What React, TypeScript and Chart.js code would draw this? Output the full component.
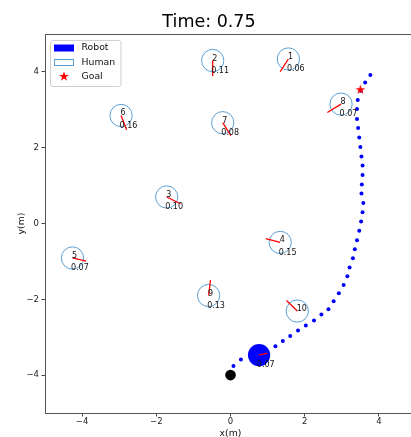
import React, { useEffect, useRef } from 'react';
import { Chart, registerables } from 'chart.js';

Chart.register(...registerables);

// ---------- data ----------
const TITLE = 'Time: 0.75';
const X_TICKS = [-4, -2, 0, 2, 4];
const Y_TICKS = [-4, -2, 0, 2, 4];
const AXIS_MIN = -5;
const AXIS_MAX = 5;
const X_LABEL = 'x(m)';
const Y_LABEL = 'y(m)';

// robot trajectory dots (start -> end)
const PATH_X = [0.08, 0.28, 1.21, 1.41, 1.61, 1.82, 2.03, 2.25, 2.45, 2.64, 2.78, 2.92, 3.05, 3.15, 3.21, 3.30, 3.35, 3.41, 3.47, 3.52, 3.56, 3.58, 3.53, 3.54, 3.56, 3.56, 3.53, 3.50, 3.47, 3.44, 3.41, 3.41, 3.43, 3.51, 3.63, 3.77];
const PATH_Y = [-3.76, -3.59, -3.24, -3.10, -2.97, -2.82, -2.69, -2.56, -2.40, -2.26, -2.05, -1.84, -1.62, -1.39, -1.16, -0.92, -0.68, -0.44, -0.19, 0.05, 0.30, 0.54, 0.79, 1.03, 1.28, 1.53, 1.77, 2.02, 2.27, 2.52, 2.76, 3.02, 3.26, 3.50, 3.72, 3.92];

const HUMAN_IDS = ['1', '2', '3', '4', '5', '6', '7', '8', '9', '10'];
const HUMAN_X = [1.56, -0.48, -1.72, 1.34, -4.26, -2.95, -0.21, 2.98, -0.59, 1.80];
const HUMAN_Y = [4.34, 4.30, 0.70, -0.50, -0.91, 2.85, 2.66, 3.15, -1.90, -2.31];
const HUMAN_HEAD_X = [1.34, -0.48, -1.35, 0.95, -3.89, -2.80, 0.01, 2.61, -0.54, 1.51];
const HUMAN_HEAD_Y = [4.01, 3.89, 0.52, -0.40, -0.99, 2.47, 2.32, 2.93, -1.49, -2.03];
const HUMAN_VALUES = ['0.06', '0.11', '0.10', '0.15', '0.07', '0.16', '0.08', '0.07', '0.13', ''];
const HUMAN_RADIUS = 0.3;

const ROBOT_X = [0.77];
const ROBOT_Y = [-3.47];
const ROBOT_HEAD_X = [0.99];
const ROBOT_HEAD_Y = [-3.42];
const ROBOT_VALUE = ['0.07'];
const ROBOT_RADIUS = 0.3;

const START_X = [0];
const START_Y = [-4];
const GOAL_X = [3.5];
const GOAL_Y = [3.53];

const LEGEND_LABELS = ['Robot', 'Human', 'Goal'];

// ---------- styles ----------
const FONT = 'DejaVu Sans';
const BLUE = '#0000ff';
const HUMAN_EDGE = '#5a9fd4';
const RED = '#ff0000';
const LABEL_DX = -0.04;
const LABEL_DY = -0.32;

function starPath(g: CanvasRenderingContext2D, cx: number, cy: number, R: number) {
  const r = R * 0.382;
  g.beginPath();
  for (let k = 0; k < 10; k++) {
    const a = -Math.PI / 2 + (k * Math.PI) / 5;
    const rad = k % 2 === 0 ? R : r;
    const px = cx + rad * Math.cos(a);
    const py = cy + rad * Math.sin(a);
    if (k === 0) g.moveTo(px, py);
    else g.lineTo(px, py);
  }
  g.closePath();
}

function makeStar(R: number, color: string): HTMLCanvasElement {
  const size = Math.ceil(R * 2 + 2);
  const c = document.createElement('canvas');
  c.width = size;
  c.height = size;
  const g = c.getContext('2d')!;
  starPath(g, size / 2, size / 2, R);
  g.fillStyle = color;
  g.fill();
  return c;
}

const fmtTick = (v: number) => (v < 0 ? '\u2212' + Math.abs(v) : String(v));

const framePlugin = {
  id: 'frame',
  afterDatasetsDraw(chart: any) {
    const { ctx, chartArea } = chart;
    const l = Math.floor(chartArea.left);
    const t = Math.floor(chartArea.top);
    const r = Math.floor(chartArea.right);
    const b = Math.floor(chartArea.bottom);
    ctx.save();
    ctx.strokeStyle = '#555';
    ctx.lineWidth = 1;
    ctx.strokeRect(l + 0.5, t + 0.5, r - l, b - t);
    ctx.restore();
  },
};

const textPlugin = {
  id: 'agentText',
  afterDatasetsDraw(chart: any) {
    const { ctx } = chart;
    const sx = chart.scales.x;
    const sy = chart.scales.y;
    ctx.save();
    ctx.font = `8px "${FONT}"`;
    ctx.fillStyle = '#111';
    ctx.textAlign = 'left';
    ctx.textBaseline = 'alphabetic';
    HUMAN_IDS.forEach((id, i) => {
      ctx.fillText(id, sx.getPixelForValue(HUMAN_X[i]) - 0.5, sy.getPixelForValue(HUMAN_Y[i]));
      if (HUMAN_VALUES[i]) {
        ctx.fillText(
          HUMAN_VALUES[i],
          sx.getPixelForValue(HUMAN_X[i] + LABEL_DX),
          sy.getPixelForValue(HUMAN_Y[i] + LABEL_DY)
        );
      }
    });
    ROBOT_VALUE.forEach((v, i) => {
      ctx.fillText(v, sx.getPixelForValue(ROBOT_X[i] + LABEL_DX - 0.02), sy.getPixelForValue(ROBOT_Y[i] + LABEL_DY));
    });
    ctx.restore();
  },
};

const legendPlugin = {
  id: 'mplLegend',
  afterDraw(chart: any) {
    const { ctx, chartArea } = chart;
    const x0 = chartArea.left + 5;
    const y0 = chartArea.top + 6;
    const w = 70.5;
    const h = 46;
    ctx.save();
    ctx.beginPath();
    if (ctx.roundRect) ctx.roundRect(x0 + 0.5, y0 + 0.5, w, h, 2.5);
    else ctx.rect(x0 + 0.5, y0 + 0.5, w, h);
    ctx.fillStyle = 'rgba(255,255,255,0.8)';
    ctx.fill();
    ctx.strokeStyle = '#cfcfcf';
    ctx.lineWidth = 1;
    ctx.stroke();

    const px = x0 + 4;
    // Robot patch
    ctx.fillStyle = BLUE;
    ctx.fillRect(px, y0 + 4.5, 20, 7);
    // Human patch
    ctx.fillStyle = '#fff';
    ctx.fillRect(px + 0.5, y0 + 19.5, 19, 6);
    ctx.strokeStyle = HUMAN_EDGE;
    ctx.strokeRect(px + 0.5, y0 + 19.5, 19, 6);
    // Goal star
    starPath(ctx, px + 10, y0 + 36.5, 5.2);
    ctx.fillStyle = RED;
    ctx.fill();

    ctx.font = `9.3px "${FONT}"`;
    ctx.fillStyle = '#111';
    ctx.textAlign = 'left';
    ctx.textBaseline = 'middle';
    const ys = [y0 + 7.9, y0 + 22.4, y0 + 36.6];
    LEGEND_LABELS.forEach((lab, i) => ctx.fillText(lab, x0 + 31.5, ys[i]));
    ctx.restore();
  },
};

export default function App() {
  const ref = useRef<HTMLCanvasElement | null>(null);

  useEffect(() => {
    if (!ref.current) return;
    const radiusFor = (meters: number) => (c: any) => {
      const s = c.chart.scales && c.chart.scales.x;
      if (!s) return 11;
      return Math.abs(s.getPixelForValue(meters) - s.getPixelForValue(0));
    };

    const headingData: any[] = [];
    HUMAN_IDS.forEach((_, i) => {
      headingData.push({ x: HUMAN_X[i], y: HUMAN_Y[i] });
      headingData.push({ x: HUMAN_HEAD_X[i], y: HUMAN_HEAD_Y[i] });
      headingData.push({ x: null, y: null });
    });
    ROBOT_X.forEach((_, i) => {
      headingData.push({ x: ROBOT_X[i], y: ROBOT_Y[i] });
      headingData.push({ x: ROBOT_HEAD_X[i], y: ROBOT_HEAD_Y[i] });
      headingData.push({ x: null, y: null });
    });

    const tickFont = { family: FONT, size: 8.5 };
    const titleFont = { family: FONT, size: 9.3 };

    const chart = new Chart(ref.current, {
      type: 'scatter',
      data: {
        datasets: [
          {
            label: 'heading',
            data: headingData,
            showLine: true,
            spanGaps: false,
            borderColor: RED,
            borderWidth: 1.3,
            pointRadius: 0,
          },
          {
            label: 'Goal',
            data: GOAL_X.map((x, i) => ({ x, y: GOAL_Y[i] })),
            pointStyle: makeStar(5.2, RED) as any,
            pointRadius: 5,
          },
          {
            label: 'Robot',
            data: ROBOT_X.map((x, i) => ({ x, y: ROBOT_Y[i] })),
            pointRadius: radiusFor(ROBOT_RADIUS) as any,
            backgroundColor: BLUE,
            borderColor: BLUE,
            borderWidth: 0,
          },
          {
            label: 'start',
            data: START_X.map((x, i) => ({ x, y: START_Y[i] })),
            pointRadius: 5.3,
            backgroundColor: '#000',
            borderColor: '#000',
            borderWidth: 0,
          },
          {
            label: 'path',
            data: PATH_X.map((x, i) => ({ x, y: PATH_Y[i] })),
            pointRadius: 2,
            backgroundColor: BLUE,
            borderColor: BLUE,
            borderWidth: 0,
          },
          {
            label: 'Human',
            data: HUMAN_X.map((x, i) => ({ x, y: HUMAN_Y[i] })),
            pointRadius: radiusFor(HUMAN_RADIUS) as any,
            backgroundColor: 'rgba(0,0,0,0)',
            borderColor: HUMAN_EDGE,
            borderWidth: 1,
          },
        ],
      },
      options: {
        animation: false,
        responsive: false,
        devicePixelRatio: 1,
        events: [],
        layout: { padding: { left: 0, right: 4, top: 0, bottom: 0 } },
        plugins: {
          legend: { display: false },
          tooltip: { enabled: false },
          title: {
            display: true,
            text: TITLE,
            color: '#000',
            font: { family: FONT, size: 17.5, weight: 'normal', lineHeight: 1.2 },
            padding: { top: 11.8, bottom: 1.2 },
          },
        },
        scales: {
          x: {
            type: 'linear',
            min: AXIS_MIN,
            max: AXIS_MAX,
            afterBuildTicks: (s: any) => {
              s.ticks = X_TICKS.map((v) => ({ value: v }));
            },
            afterFit: (s: any) => {
              s.height = 37;
            },
            ticks: {
              font: tickFont,
              color: '#222',
              padding: 0.5,
              maxRotation: 0,
              autoSkip: false,
              callback: (v: any) => fmtTick(Number(v)),
            },
            grid: { display: true, drawOnChartArea: false, drawTicks: true, tickLength: 3.5, color: '#444' },
            border: { display: false },
            title: { display: true, text: X_LABEL, color: '#111', font: titleFont, padding: { top: 0, bottom: 11.2 } },
          },
          y: {
            type: 'linear',
            min: AXIS_MIN,
            max: AXIS_MAX,
            afterBuildTicks: (s: any) => {
              s.ticks = Y_TICKS.map((v) => ({ value: v }));
            },
            afterFit: (s: any) => {
              s.width = 45;
            },
            ticks: {
              font: tickFont,
              color: '#222',
              padding: 2.5,
              autoSkip: false,
              callback: (v: any) => fmtTick(Number(v)),
            },
            grid: { display: true, drawOnChartArea: false, drawTicks: true, tickLength: 3.5, color: '#444' },
            border: { display: false },
            title: { display: true, text: Y_LABEL, color: '#111', font: titleFont, padding: { top: 15.6, bottom: 0 } },
          },
        },
      } as any,
      plugins: [framePlugin, textPlugin, legendPlugin],
    });
    return () => chart.destroy();
  }, []);

  return (
    <div
      style={{
        position: 'fixed',
        left: 0,
        top: 0,
        width: 411,
        height: 437,
        overflow: 'hidden',
        background: '#fff',
      }}
    >
      <canvas ref={ref} width={422} height={450} style={{ display: 'block', width: 422, height: 450 }} />
    </div>
  );
}
